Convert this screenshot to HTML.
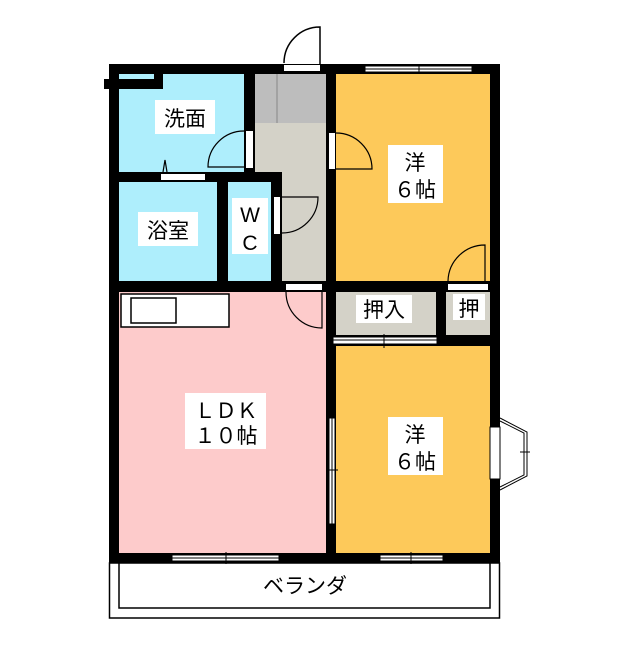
<!DOCTYPE html>
<html><head><meta charset="utf-8"><style>
body{margin:0;background:#fff}
</style></head><body>
<svg width="640" height="640" viewBox="0 0 640 640" xmlns="http://www.w3.org/2000/svg" font-family="Liberation Sans, Noto Sans CJK JP, sans-serif">
<rect x="0" y="0" width="640" height="640" fill="#fff"/>
<!-- balcony -->
<rect x="109.5" y="563" width="390" height="55" fill="#fff" stroke="#000" stroke-width="1.5"/>
<path d="M119 563 V608 H490 V563" fill="none" stroke="#000" stroke-width="1.5"/>
<!-- outer walls -->
<rect x="109" y="64" width="391" height="499" fill="#000"/>
<rect x="104" y="79" width="10" height="10" fill="#000"/>
<!-- rooms -->
<rect x="119" y="74" width="125" height="98" fill="#aeeefc"/>
<rect x="119" y="182" width="98" height="99" fill="#aeeefc"/>
<rect x="228" y="182" width="43" height="99" fill="#aeeefc"/>
<rect x="255" y="74" width="71" height="49" fill="#bdbdbd"/>
<line x1="277" y1="74" x2="277" y2="123" stroke="#888" stroke-width="1"/>
<rect x="255" y="123" width="71" height="49" fill="#d4d2c8"/>
<rect x="282" y="172" width="44" height="109" fill="#d4d2c8"/>
<rect x="336" y="74" width="154" height="207" fill="#fdc95a"/>
<rect x="119" y="292" width="207" height="261" fill="#fdcbcb"/>
<rect x="336" y="292" width="100" height="43" fill="#d4d2c8"/>
<rect x="446" y="292" width="44" height="43" fill="#d4d2c8"/>
<rect x="336" y="346" width="154" height="207" fill="#fdc95a"/>
<!-- small laundry notch -->
<rect x="119" y="74" width="35" height="5" fill="#aeeefc"/>
<rect x="109" y="79" width="54" height="10" fill="#000"/>
<rect x="154" y="74" width="9" height="10" fill="#000"/>
<rect x="119" y="74" width="35" height="5" fill="#aeeefc"/>
<!-- kitchen -->
<rect x="121" y="294" width="108" height="33" fill="#fff" stroke="#000" stroke-width="1.5"/>
<rect x="131" y="298" width="45" height="25" fill="#fff" stroke="#000" stroke-width="1.5"/>
<!-- entrance door -->
<rect x="284" y="65" width="36" height="6" fill="#fff"/>
<path d="M320 65 V27 A36 36 0 0 0 284 63" fill="none" stroke="#000" stroke-width="1.5"/>
<!-- door 洗面 -->
<rect x="246" y="131" width="7" height="37" fill="#fff"/>
<path d="M244 131 A36 36 0 0 0 208 167 H244" fill="none" stroke="#000" stroke-width="1.2"/>
<!-- door bath -->
<rect x="161" y="174" width="44" height="6" fill="#fff"/>
<path d="M163 172 L165 160 L167 172" fill="none" stroke="#000" stroke-width="1.2"/>
<!-- door WC -->
<rect x="274" y="197" width="6" height="37" fill="#fff"/>
<path d="M282 197 H318 A36 36 0 0 1 282 233" fill="none" stroke="#000" stroke-width="1.2"/>
<!-- door 洋 top -->
<rect x="329" y="133" width="6" height="36" fill="#fff"/>
<path d="M336 133 A36 36 0 0 1 372 169 H336" fill="none" stroke="#000" stroke-width="1.2"/>
<!-- door 押 -->
<rect x="448" y="284" width="40" height="6" fill="#fff"/>
<path d="M448 281 A37 37 0 0 1 485 245 V281" fill="none" stroke="#000" stroke-width="1.2"/>
<!-- door LDK -->
<rect x="286" y="284" width="36" height="6" fill="#fff"/>
<path d="M322 292 V328 A36 36 0 0 1 286 292" fill="none" stroke="#000" stroke-width="1.2"/>
<!-- windows -->
<g fill="#fff" stroke="#000" stroke-width="1">
<rect x="365" y="66" width="107" height="6"/>
<rect x="333" y="337" width="104" height="7"/>
<rect x="329" y="418" width="6" height="106"/>
<rect x="172" y="555" width="107" height="6"/>
<rect x="380" y="555" width="63" height="6"/>
<rect x="490" y="427" width="10" height="52"/>
</g>
<g stroke="#000" stroke-width="1">
<line x1="365" y1="69" x2="472" y2="69"/><line x1="419" y1="64" x2="419" y2="74"/>
<line x1="333" y1="340" x2="437" y2="340"/><line x1="384" y1="334" x2="384" y2="348"/>
<line x1="332" y1="418" x2="332" y2="524"/><line x1="326" y1="470" x2="338" y2="470"/>
<line x1="172" y1="558" x2="279" y2="558"/><line x1="226" y1="552" x2="226" y2="564"/>
<line x1="380" y1="558" x2="443" y2="558"/><line x1="411" y1="552" x2="411" y2="564"/>
<path d="M500 418 L527 432 V476 L500 490" fill="none"/>
<path d="M500 421 L524 433 V475 L500 487" fill="none"/>
<line x1="520" y1="452" x2="530" y2="452"/>
</g>
<!-- labels -->
<g fill="#fff">
<rect x="155" y="100" width="60" height="34"/>
<rect x="138" y="212" width="60" height="34"/>
<rect x="232" y="198" width="36" height="56"/>
<rect x="388" y="145" width="55" height="58"/>
<rect x="356" y="295" width="56" height="28"/>
<rect x="453" y="294" width="32" height="26"/>
<rect x="185" y="393" width="81" height="56"/>
<rect x="388" y="417" width="55" height="58"/>
</g>
<g fill="#000" font-size="21" text-anchor="middle">
<text x="185" y="126">洗面</text>
<text x="168" y="238">浴室</text>
<text x="250" y="222">W</text>
<text x="250" y="250">C</text>
<text x="415" y="170">洋</text>
<text x="415" y="197">６帖</text>
<text x="384" y="317">押入</text>
<text x="469" y="316">押</text>
<text x="226" y="418">ＬＤＫ</text>
<text x="226" y="443">１０帖</text>
<text x="415" y="442">洋</text>
<text x="415" y="469">６帖</text>
<text x="305" y="593">ベランダ</text>
</g>
</svg>
</body></html>
